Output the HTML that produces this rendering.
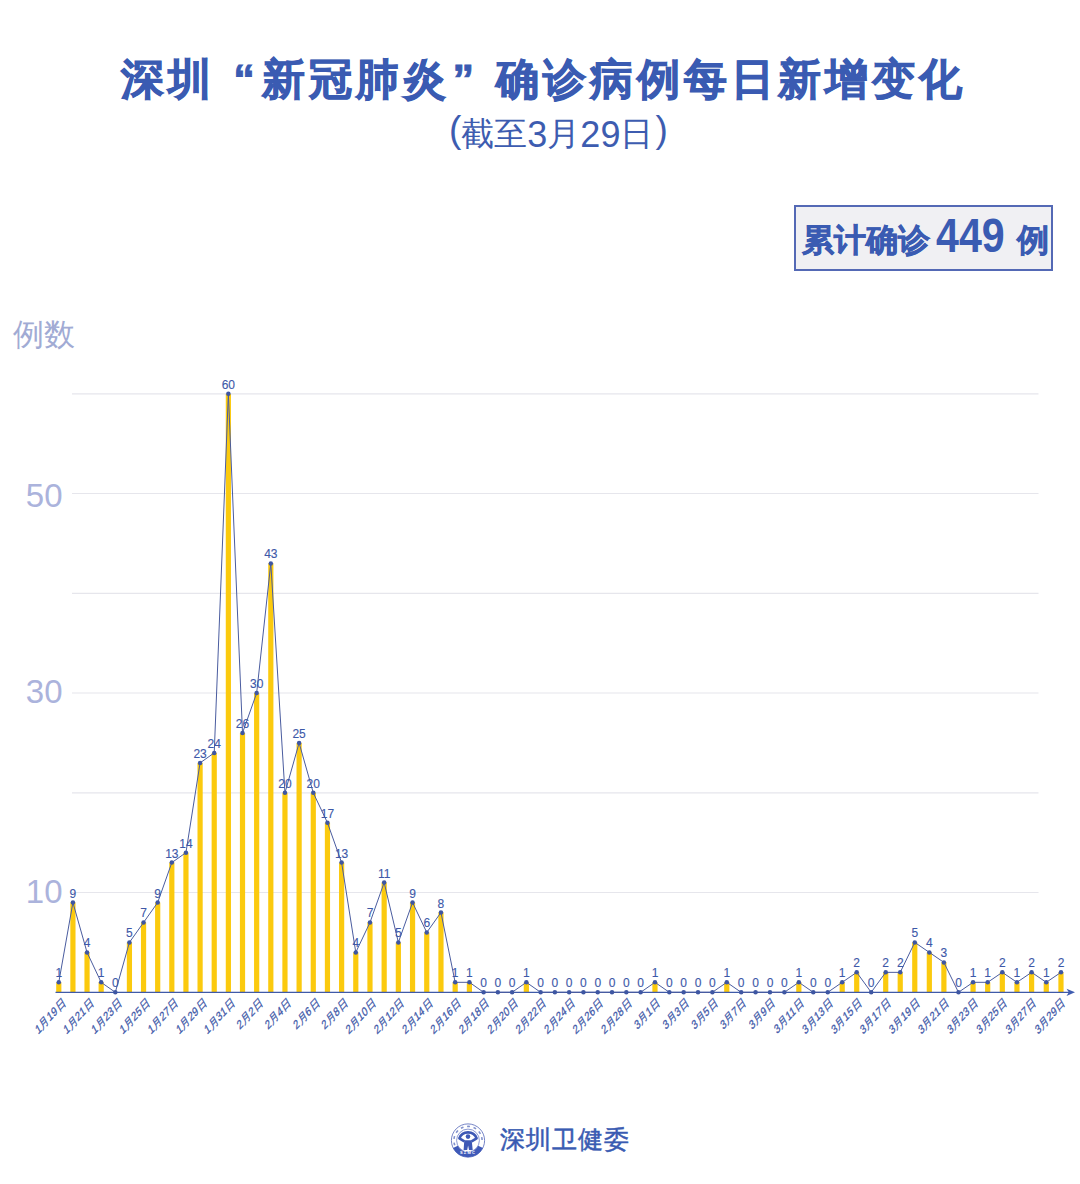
<!DOCTYPE html>
<html><head><meta charset="utf-8">
<style>
html,body{margin:0;padding:0;background:#fff;}
body{width:1080px;height:1184px;position:relative;overflow:hidden;font-family:"Liberation Sans",sans-serif;}
.t{position:absolute;white-space:nowrap;}
#title{left:121px;top:48.5px;font-size:43px;letter-spacing:3.9px;font-weight:900;color:#3a5bb2;line-height:60px;-webkit-text-stroke:0.9px #3a5bb2;}
.q{display:inline-block;}
#sub{left:449px;top:113px;font-size:33px;color:#3d5cb0;line-height:40px;}
#sub .p{font-size:37px;position:relative;top:-3px;} #sub .d{font-size:36px;position:relative;top:2px;}
#box{position:absolute;left:794px;top:205px;width:255px;height:62px;border:2px solid #5469b5;background:#f0f0f3;box-sizing:content-box;}
.bx{position:absolute;white-space:nowrap;color:#3a5bb2;font-weight:bold;line-height:40px;-webkit-text-stroke:0.6px #3a5bb2;}
#b1{left:802px;top:220px;font-size:32px;}
#b2{left:936px;top:215px;font-size:49px;transform:scaleX(0.84);transform-origin:0 0;-webkit-text-stroke:0;}
#b3{left:1017px;top:220px;font-size:32px;}
#ylab{left:13px;top:313px;font-size:31px;color:#a1abd4;line-height:44px;}
.yn{position:absolute;font-size:33px;color:#abb3dc;line-height:40px;text-align:right;width:60px;left:2.5px;}
#foot{left:500px;top:1120px;font-size:24.5px;letter-spacing:1px;color:#3a5bb2;line-height:40px;-webkit-text-stroke:0.5px #3a5bb2;}
svg{position:absolute;left:0;top:0;}
</style></head><body>
<svg width="1080" height="1184" viewBox="0 0 1080 1184" font-family="Liberation Sans, sans-serif">
<line x1="72" y1="892.5" x2="1038.5" y2="892.5" stroke="#e6e6ec" stroke-width="1.2"/>
<line x1="72" y1="792.8" x2="1038.5" y2="792.8" stroke="#e6e6ec" stroke-width="1.2"/>
<line x1="72" y1="693.0" x2="1038.5" y2="693.0" stroke="#e6e6ec" stroke-width="1.2"/>
<line x1="72" y1="593.3" x2="1038.5" y2="593.3" stroke="#e6e6ec" stroke-width="1.2"/>
<line x1="72" y1="493.5" x2="1038.5" y2="493.5" stroke="#e6e6ec" stroke-width="1.2"/>
<line x1="72" y1="393.8" x2="1038.5" y2="393.8" stroke="#e6e6ec" stroke-width="1.2"/>
<rect x="56.19" y="982.32" width="5.2" height="9.98" fill="#fbca0e"/>
<rect x="70.32" y="902.52" width="5.2" height="89.77" fill="#fbca0e"/>
<rect x="84.44" y="952.40" width="5.2" height="39.90" fill="#fbca0e"/>
<rect x="98.57" y="982.32" width="5.2" height="9.98" fill="#fbca0e"/>
<rect x="126.82" y="942.42" width="5.2" height="49.88" fill="#fbca0e"/>
<rect x="140.95" y="922.47" width="5.2" height="69.83" fill="#fbca0e"/>
<rect x="155.08" y="902.52" width="5.2" height="89.77" fill="#fbca0e"/>
<rect x="169.22" y="862.62" width="5.2" height="129.67" fill="#fbca0e"/>
<rect x="183.35" y="852.65" width="5.2" height="139.65" fill="#fbca0e"/>
<rect x="197.49" y="762.88" width="5.2" height="229.42" fill="#fbca0e"/>
<rect x="211.62" y="752.90" width="5.2" height="239.40" fill="#fbca0e"/>
<rect x="225.77" y="393.80" width="5.2" height="598.50" fill="#fbca0e"/>
<rect x="239.91" y="732.95" width="5.2" height="259.35" fill="#fbca0e"/>
<rect x="254.06" y="693.05" width="5.2" height="299.25" fill="#fbca0e"/>
<rect x="268.21" y="563.38" width="5.2" height="428.92" fill="#fbca0e"/>
<rect x="282.36" y="792.80" width="5.2" height="199.50" fill="#fbca0e"/>
<rect x="296.52" y="742.92" width="5.2" height="249.38" fill="#fbca0e"/>
<rect x="310.68" y="792.80" width="5.2" height="199.50" fill="#fbca0e"/>
<rect x="324.85" y="822.72" width="5.2" height="169.58" fill="#fbca0e"/>
<rect x="339.02" y="862.62" width="5.2" height="129.67" fill="#fbca0e"/>
<rect x="353.19" y="952.40" width="5.2" height="39.90" fill="#fbca0e"/>
<rect x="367.38" y="922.47" width="5.2" height="69.83" fill="#fbca0e"/>
<rect x="381.56" y="882.57" width="5.2" height="109.73" fill="#fbca0e"/>
<rect x="395.75" y="942.42" width="5.2" height="49.88" fill="#fbca0e"/>
<rect x="409.95" y="902.52" width="5.2" height="89.77" fill="#fbca0e"/>
<rect x="424.15" y="932.45" width="5.2" height="59.85" fill="#fbca0e"/>
<rect x="438.36" y="912.50" width="5.2" height="79.80" fill="#fbca0e"/>
<rect x="452.57" y="982.32" width="5.2" height="9.98" fill="#fbca0e"/>
<rect x="466.80" y="982.32" width="5.2" height="9.98" fill="#fbca0e"/>
<rect x="523.75" y="982.32" width="5.2" height="9.98" fill="#fbca0e"/>
<rect x="652.38" y="982.32" width="5.2" height="9.98" fill="#fbca0e"/>
<rect x="724.17" y="982.32" width="5.2" height="9.98" fill="#fbca0e"/>
<rect x="796.23" y="982.32" width="5.2" height="9.98" fill="#fbca0e"/>
<rect x="839.61" y="982.32" width="5.2" height="9.98" fill="#fbca0e"/>
<rect x="854.10" y="972.35" width="5.2" height="19.95" fill="#fbca0e"/>
<rect x="883.11" y="972.35" width="5.2" height="19.95" fill="#fbca0e"/>
<rect x="897.63" y="972.35" width="5.2" height="19.95" fill="#fbca0e"/>
<rect x="912.17" y="942.42" width="5.2" height="49.88" fill="#fbca0e"/>
<rect x="926.73" y="952.40" width="5.2" height="39.90" fill="#fbca0e"/>
<rect x="941.29" y="962.38" width="5.2" height="29.92" fill="#fbca0e"/>
<rect x="970.47" y="982.32" width="5.2" height="9.98" fill="#fbca0e"/>
<rect x="985.08" y="982.32" width="5.2" height="9.98" fill="#fbca0e"/>
<rect x="999.71" y="972.35" width="5.2" height="19.95" fill="#fbca0e"/>
<rect x="1014.35" y="982.32" width="5.2" height="9.98" fill="#fbca0e"/>
<rect x="1029.00" y="972.35" width="5.2" height="19.95" fill="#fbca0e"/>
<rect x="1043.68" y="982.32" width="5.2" height="9.98" fill="#fbca0e"/>
<rect x="1058.37" y="972.35" width="5.2" height="19.95" fill="#fbca0e"/>
<line x1="55.5" y1="992.3" x2="1070" y2="992.3" stroke="#3f5aa8" stroke-width="1.3"/>
<path d="M1075 992.3 L1066.5 988.7 L1068.8 992.3 L1066.5 995.9 Z" fill="#3f5cb0"/>
<polyline points="58.79,982.32 72.92,902.52 87.04,952.40 101.17,982.32 115.30,992.30 129.42,942.42 143.55,922.47 157.68,902.52 171.82,862.62 185.95,852.65 200.09,762.88 214.22,752.90 228.37,393.80 242.51,732.95 256.66,693.05 270.81,563.38 284.96,792.80 299.12,742.92 313.28,792.80 327.45,822.72 341.62,862.62 355.79,952.40 369.98,922.47 384.16,882.57 398.35,942.42 412.55,902.52 426.75,932.45 440.96,912.50 455.17,982.32 469.40,982.32 483.62,992.30 497.86,992.30 512.10,992.30 526.35,982.32 540.61,992.30 554.88,992.30 569.15,992.30 583.43,992.30 597.72,992.30 612.02,992.30 626.33,992.30 640.65,992.30 654.98,982.32 669.32,992.30 683.66,992.30 698.02,992.30 712.39,992.30 726.77,982.32 741.16,992.30 755.56,992.30 769.97,992.30 784.40,992.30 798.83,982.32 813.28,992.30 827.74,992.30 842.21,982.32 856.70,972.35 871.20,992.30 885.71,972.35 900.23,972.35 914.77,942.42 929.33,952.40 943.89,962.38 958.47,992.30 973.07,982.32 987.68,982.32 1002.31,972.35 1016.95,982.32 1031.60,972.35 1046.28,982.32 1060.97,972.35" fill="none" stroke="#4a5c9f" stroke-width="1.0" stroke-linejoin="round"/>
<circle cx="58.79" cy="982.32" r="2.25" fill="#3e56a2"/>
<circle cx="72.92" cy="902.52" r="2.25" fill="#3e56a2"/>
<circle cx="87.04" cy="952.40" r="2.25" fill="#3e56a2"/>
<circle cx="101.17" cy="982.32" r="2.25" fill="#3e56a2"/>
<circle cx="115.30" cy="992.30" r="2.25" fill="#3e56a2"/>
<circle cx="129.42" cy="942.42" r="2.25" fill="#3e56a2"/>
<circle cx="143.55" cy="922.47" r="2.25" fill="#3e56a2"/>
<circle cx="157.68" cy="902.52" r="2.25" fill="#3e56a2"/>
<circle cx="171.82" cy="862.62" r="2.25" fill="#3e56a2"/>
<circle cx="185.95" cy="852.65" r="2.25" fill="#3e56a2"/>
<circle cx="200.09" cy="762.88" r="2.25" fill="#3e56a2"/>
<circle cx="214.22" cy="752.90" r="2.25" fill="#3e56a2"/>
<circle cx="228.37" cy="393.80" r="2.25" fill="#3e56a2"/>
<circle cx="242.51" cy="732.95" r="2.25" fill="#3e56a2"/>
<circle cx="256.66" cy="693.05" r="2.25" fill="#3e56a2"/>
<circle cx="270.81" cy="563.38" r="2.25" fill="#3e56a2"/>
<circle cx="284.96" cy="792.80" r="2.25" fill="#3e56a2"/>
<circle cx="299.12" cy="742.92" r="2.25" fill="#3e56a2"/>
<circle cx="313.28" cy="792.80" r="2.25" fill="#3e56a2"/>
<circle cx="327.45" cy="822.72" r="2.25" fill="#3e56a2"/>
<circle cx="341.62" cy="862.62" r="2.25" fill="#3e56a2"/>
<circle cx="355.79" cy="952.40" r="2.25" fill="#3e56a2"/>
<circle cx="369.98" cy="922.47" r="2.25" fill="#3e56a2"/>
<circle cx="384.16" cy="882.57" r="2.25" fill="#3e56a2"/>
<circle cx="398.35" cy="942.42" r="2.25" fill="#3e56a2"/>
<circle cx="412.55" cy="902.52" r="2.25" fill="#3e56a2"/>
<circle cx="426.75" cy="932.45" r="2.25" fill="#3e56a2"/>
<circle cx="440.96" cy="912.50" r="2.25" fill="#3e56a2"/>
<circle cx="455.17" cy="982.32" r="2.25" fill="#3e56a2"/>
<circle cx="469.40" cy="982.32" r="2.25" fill="#3e56a2"/>
<circle cx="483.62" cy="992.30" r="2.25" fill="#3e56a2"/>
<circle cx="497.86" cy="992.30" r="2.25" fill="#3e56a2"/>
<circle cx="512.10" cy="992.30" r="2.25" fill="#3e56a2"/>
<circle cx="526.35" cy="982.32" r="2.25" fill="#3e56a2"/>
<circle cx="540.61" cy="992.30" r="2.25" fill="#3e56a2"/>
<circle cx="554.88" cy="992.30" r="2.25" fill="#3e56a2"/>
<circle cx="569.15" cy="992.30" r="2.25" fill="#3e56a2"/>
<circle cx="583.43" cy="992.30" r="2.25" fill="#3e56a2"/>
<circle cx="597.72" cy="992.30" r="2.25" fill="#3e56a2"/>
<circle cx="612.02" cy="992.30" r="2.25" fill="#3e56a2"/>
<circle cx="626.33" cy="992.30" r="2.25" fill="#3e56a2"/>
<circle cx="640.65" cy="992.30" r="2.25" fill="#3e56a2"/>
<circle cx="654.98" cy="982.32" r="2.25" fill="#3e56a2"/>
<circle cx="669.32" cy="992.30" r="2.25" fill="#3e56a2"/>
<circle cx="683.66" cy="992.30" r="2.25" fill="#3e56a2"/>
<circle cx="698.02" cy="992.30" r="2.25" fill="#3e56a2"/>
<circle cx="712.39" cy="992.30" r="2.25" fill="#3e56a2"/>
<circle cx="726.77" cy="982.32" r="2.25" fill="#3e56a2"/>
<circle cx="741.16" cy="992.30" r="2.25" fill="#3e56a2"/>
<circle cx="755.56" cy="992.30" r="2.25" fill="#3e56a2"/>
<circle cx="769.97" cy="992.30" r="2.25" fill="#3e56a2"/>
<circle cx="784.40" cy="992.30" r="2.25" fill="#3e56a2"/>
<circle cx="798.83" cy="982.32" r="2.25" fill="#3e56a2"/>
<circle cx="813.28" cy="992.30" r="2.25" fill="#3e56a2"/>
<circle cx="827.74" cy="992.30" r="2.25" fill="#3e56a2"/>
<circle cx="842.21" cy="982.32" r="2.25" fill="#3e56a2"/>
<circle cx="856.70" cy="972.35" r="2.25" fill="#3e56a2"/>
<circle cx="871.20" cy="992.30" r="2.25" fill="#3e56a2"/>
<circle cx="885.71" cy="972.35" r="2.25" fill="#3e56a2"/>
<circle cx="900.23" cy="972.35" r="2.25" fill="#3e56a2"/>
<circle cx="914.77" cy="942.42" r="2.25" fill="#3e56a2"/>
<circle cx="929.33" cy="952.40" r="2.25" fill="#3e56a2"/>
<circle cx="943.89" cy="962.38" r="2.25" fill="#3e56a2"/>
<circle cx="958.47" cy="992.30" r="2.25" fill="#3e56a2"/>
<circle cx="973.07" cy="982.32" r="2.25" fill="#3e56a2"/>
<circle cx="987.68" cy="982.32" r="2.25" fill="#3e56a2"/>
<circle cx="1002.31" cy="972.35" r="2.25" fill="#3e56a2"/>
<circle cx="1016.95" cy="982.32" r="2.25" fill="#3e56a2"/>
<circle cx="1031.60" cy="972.35" r="2.25" fill="#3e56a2"/>
<circle cx="1046.28" cy="982.32" r="2.25" fill="#3e56a2"/>
<circle cx="1060.97" cy="972.35" r="2.25" fill="#3e56a2"/>
<g font-size="12" fill="#3d58a8" stroke="#3d58a8" stroke-width="0.12" text-anchor="middle"><text x="58.79" y="977.32">1</text><text x="72.92" y="897.52">9</text><text x="87.04" y="947.40">4</text><text x="101.17" y="977.32">1</text><text x="115.30" y="987.30">0</text><text x="129.42" y="937.42">5</text><text x="143.55" y="917.47">7</text><text x="157.68" y="897.52">9</text><text x="171.82" y="857.62">13</text><text x="185.95" y="847.65">14</text><text x="200.09" y="757.88">23</text><text x="214.22" y="747.90">24</text><text x="228.37" y="388.80">60</text><text x="242.51" y="727.95">26</text><text x="256.66" y="688.05">30</text><text x="270.81" y="558.38">43</text><text x="284.96" y="787.80">20</text><text x="299.12" y="737.92">25</text><text x="313.28" y="787.80">20</text><text x="327.45" y="817.72">17</text><text x="341.62" y="857.62">13</text><text x="355.79" y="947.40">4</text><text x="369.98" y="917.47">7</text><text x="384.16" y="877.57">11</text><text x="398.35" y="937.42">5</text><text x="412.55" y="897.52">9</text><text x="426.75" y="927.45">6</text><text x="440.96" y="907.50">8</text><text x="455.17" y="977.32">1</text><text x="469.40" y="977.32">1</text><text x="483.62" y="987.30">0</text><text x="497.86" y="987.30">0</text><text x="512.10" y="987.30">0</text><text x="526.35" y="977.32">1</text><text x="540.61" y="987.30">0</text><text x="554.88" y="987.30">0</text><text x="569.15" y="987.30">0</text><text x="583.43" y="987.30">0</text><text x="597.72" y="987.30">0</text><text x="612.02" y="987.30">0</text><text x="626.33" y="987.30">0</text><text x="640.65" y="987.30">0</text><text x="654.98" y="977.32">1</text><text x="669.32" y="987.30">0</text><text x="683.66" y="987.30">0</text><text x="698.02" y="987.30">0</text><text x="712.39" y="987.30">0</text><text x="726.77" y="977.32">1</text><text x="741.16" y="987.30">0</text><text x="755.56" y="987.30">0</text><text x="769.97" y="987.30">0</text><text x="784.40" y="987.30">0</text><text x="798.83" y="977.32">1</text><text x="813.28" y="987.30">0</text><text x="827.74" y="987.30">0</text><text x="842.21" y="977.32">1</text><text x="856.70" y="967.35">2</text><text x="871.20" y="987.30">0</text><text x="885.71" y="967.35">2</text><text x="900.23" y="967.35">2</text><text x="914.77" y="937.42">5</text><text x="929.33" y="947.40">4</text><text x="943.89" y="957.38">3</text><text x="958.47" y="987.30">0</text><text x="973.07" y="977.32">1</text><text x="987.68" y="977.32">1</text><text x="1002.31" y="967.35">2</text><text x="1016.95" y="977.32">1</text><text x="1031.60" y="967.35">2</text><text x="1046.28" y="977.32">1</text><text x="1060.97" y="967.35">2</text></g>
<g font-size="10.8" fill="#4058a8" stroke="#4058a8" stroke-width="0.25" text-anchor="end" letter-spacing="0.35"><text transform="translate(66.09,1003.80) rotate(-48) skewX(-20)">1月19<tspan dx="0.6">日</tspan></text><text transform="translate(94.27,1003.80) rotate(-48) skewX(-20)">1月21<tspan dx="0.6">日</tspan></text><text transform="translate(122.46,1003.80) rotate(-48) skewX(-20)">1月23<tspan dx="0.6">日</tspan></text><text transform="translate(150.64,1003.80) rotate(-48) skewX(-20)">1月25<tspan dx="0.6">日</tspan></text><text transform="translate(178.84,1003.80) rotate(-48) skewX(-20)">1月27<tspan dx="0.6">日</tspan></text><text transform="translate(207.04,1003.80) rotate(-48) skewX(-20)">1月29<tspan dx="0.6">日</tspan></text><text transform="translate(235.25,1003.80) rotate(-48) skewX(-20)">1月31<tspan dx="0.6">日</tspan></text><text transform="translate(263.47,1003.80) rotate(-48) skewX(-20)">2月2<tspan dx="0.6">日</tspan></text><text transform="translate(291.70,1003.80) rotate(-48) skewX(-20)">2月4<tspan dx="0.6">日</tspan></text><text transform="translate(319.95,1003.80) rotate(-48) skewX(-20)">2月6<tspan dx="0.6">日</tspan></text><text transform="translate(348.22,1003.80) rotate(-48) skewX(-20)">2月8<tspan dx="0.6">日</tspan></text><text transform="translate(376.51,1003.80) rotate(-48) skewX(-20)">2月10<tspan dx="0.6">日</tspan></text><text transform="translate(404.81,1003.80) rotate(-48) skewX(-20)">2月12<tspan dx="0.6">日</tspan></text><text transform="translate(433.14,1003.80) rotate(-48) skewX(-20)">2月14<tspan dx="0.6">日</tspan></text><text transform="translate(461.49,1003.80) rotate(-48) skewX(-20)">2月16<tspan dx="0.6">日</tspan></text><text transform="translate(489.87,1003.80) rotate(-48) skewX(-20)">2月18<tspan dx="0.6">日</tspan></text><text transform="translate(518.28,1003.80) rotate(-48) skewX(-20)">2月20<tspan dx="0.6">日</tspan></text><text transform="translate(546.72,1003.80) rotate(-48) skewX(-20)">2月22<tspan dx="0.6">日</tspan></text><text transform="translate(575.19,1003.80) rotate(-48) skewX(-20)">2月24<tspan dx="0.6">日</tspan></text><text transform="translate(603.69,1003.80) rotate(-48) skewX(-20)">2月26<tspan dx="0.6">日</tspan></text><text transform="translate(632.23,1003.80) rotate(-48) skewX(-20)">2月28<tspan dx="0.6">日</tspan></text><text transform="translate(660.81,1003.80) rotate(-48) skewX(-20)">3月1<tspan dx="0.6">日</tspan></text><text transform="translate(689.42,1003.80) rotate(-48) skewX(-20)">3月3<tspan dx="0.6">日</tspan></text><text transform="translate(718.08,1003.80) rotate(-48) skewX(-20)">3月5<tspan dx="0.6">日</tspan></text><text transform="translate(746.78,1003.80) rotate(-48) skewX(-20)">3月7<tspan dx="0.6">日</tspan></text><text transform="translate(775.52,1003.80) rotate(-48) skewX(-20)">3月9<tspan dx="0.6">日</tspan></text><text transform="translate(804.31,1003.80) rotate(-48) skewX(-20)">3月11<tspan dx="0.6">日</tspan></text><text transform="translate(833.15,1003.80) rotate(-48) skewX(-20)">3月13<tspan dx="0.6">日</tspan></text><text transform="translate(862.04,1003.80) rotate(-48) skewX(-20)">3月15<tspan dx="0.6">日</tspan></text><text transform="translate(890.98,1003.80) rotate(-48) skewX(-20)">3月17<tspan dx="0.6">日</tspan></text><text transform="translate(919.97,1003.80) rotate(-48) skewX(-20)">3月19<tspan dx="0.6">日</tspan></text><text transform="translate(949.02,1003.80) rotate(-48) skewX(-20)">3月21<tspan dx="0.6">日</tspan></text><text transform="translate(978.13,1003.80) rotate(-48) skewX(-20)">3月23<tspan dx="0.6">日</tspan></text><text transform="translate(1007.30,1003.80) rotate(-48) skewX(-20)">3月25<tspan dx="0.6">日</tspan></text><text transform="translate(1036.52,1003.80) rotate(-48) skewX(-20)">3月27<tspan dx="0.6">日</tspan></text><text transform="translate(1065.82,1003.80) rotate(-48) skewX(-20)">3月29<tspan dx="0.6">日</tspan></text></g>

<g transform="translate(468,1140.5)">
<circle r="16.6" fill="#fff" stroke="#6576c0" stroke-width="0.9"/>
<path d="M14.95 7.62 A16.8 16.8 0 0 1 -14.95 7.62 L-10.2 5.2 A11.45 11.45 0 0 0 10.2 5.2 Z" fill="#3f5ab8"/>
<circle r="11.4" fill="none" stroke="#5a6fc0" stroke-width="0.7"/>
<circle r="14.1" fill="none" stroke="#8090cc" stroke-width="1.6" stroke-dasharray="1.6 2.1" transform="rotate(160)" pathLength="100" style="stroke-dasharray:3.2 4.2 3.2 4.2 3.2 4.2 3.2 4.2 3.2 4.2 3.2 4.2 3.2 4.2 3.2 100"/>
<path d="M-3.6 0.9 L-8.6 -2.2 A9.2 9.2 0 0 1 8.6 -2.2 L3.6 0.9" fill="none" stroke="#3d58b5" stroke-width="2.6" stroke-linejoin="round"/>
<circle cx="0" cy="-3.9" r="2.3" fill="#3d58b5"/>
<path d="M-3.7 -0.3 L3.7 -0.3 L4.7 9.4 L1.0 9.4 L0.1 5 L-0.8 9.4 L-4.4 9.4 Z" fill="#3d58b5"/>
<text x="0" y="13.6" font-size="4" fill="#fff" text-anchor="middle" font-weight="bold" letter-spacing="1.2">SZMC</text>
</g>
</svg>
<div class="t" id="title">深圳<span class="q" style="text-align:right;padding-right:7px;width:40px;letter-spacing:0">“</span>新冠肺炎<span class="q" style="padding-left:3px;width:44px;letter-spacing:0">”</span>确诊病例每日新增变化</div>
<div class="t" id="sub"><span class="p">(</span>截至<span class="d">3</span>月<span class="d">29</span>日<span class="p" style="margin-left:2px">)</span></div>
<div id="box"></div><div class="bx" id="b1">累计确诊</div><div class="bx" id="b2">449</div><div class="bx" id="b3">例</div>
<div class="t" id="ylab">例数</div>
<div class="yn" style="top:476px">50</div>
<div class="yn" style="top:672px">30</div>
<div class="yn" style="top:872px">10</div>
<div class="t" id="foot">深圳卫健委</div>
</body></html>
